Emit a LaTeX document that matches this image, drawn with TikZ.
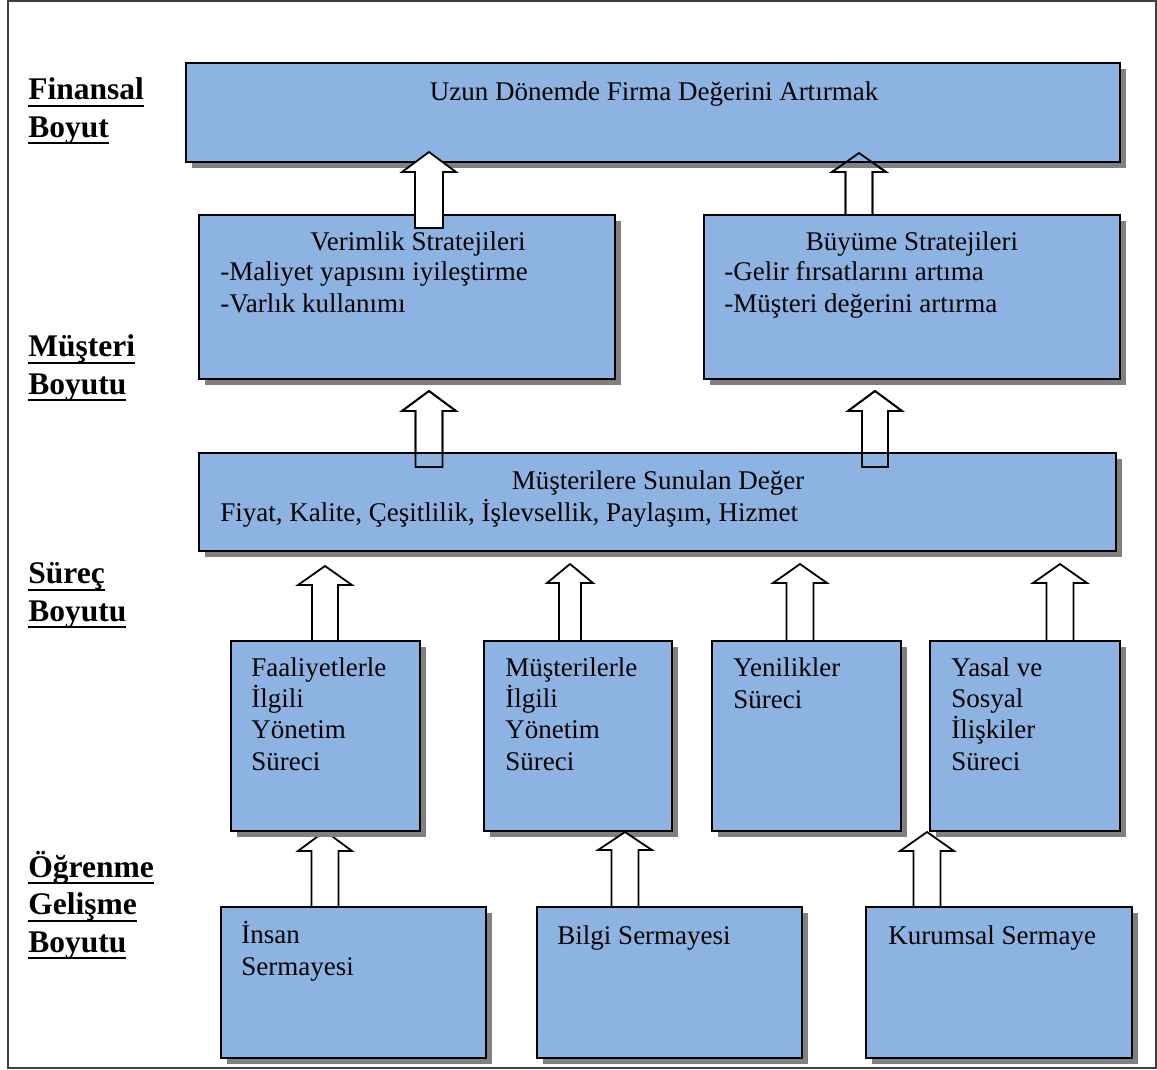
\documentclass[tikz,border=0pt]{standalone}
\usepackage{fontspec}
\setmainfont{Liberation Serif}
\usetikzlibrary{shadows,fit}

\definecolor{boxblue}{HTML}{8DB3E2}
\definecolor{shadowgray}{HTML}{808080}

% underline that runs through descenders, as in the layer headings
\newbox\ulbox
\newcommand{\ulword}[1]{\setbox\ulbox\hbox{#1}\rlap{\rule[-3.1pt]{\wd\ulbox}{0.9pt}}\box\ulbox}

% hollow upward block arrow: [opts]{cx}{tip y}{head base y}{bottom y}{head half}{body half}
\newcommand{\blockup}[7][]{%
  \draw[upblock,#1] ({#2-#7},#5) -- ({#2-#7},#4) -- ({#2-#6},#4) -- (#2,#3)
    -- ({#2+#6},#4) -- ({#2+#7},#4) -- ({#2+#7},#5) -- cycle;}

% multi-line nodes are placed by the baseline of their last line
\tikzset{
  panel/.style={draw=black, line width=0.9pt, fill=boxblue, inner sep=0pt, outer sep=0pt,
    drop shadow={shadow xshift=2.7pt, shadow yshift=-2.5pt, fill=shadowgray, opacity=1, draw=none}},
  boxtext/.style={font=\fontsize{12}{13.8}\selectfont, inner sep=0pt, align=left, anchor=base west},
  boxtitle/.style={font=\fontsize{12}{13.8}\selectfont, inner sep=0pt, anchor=base},
  layerlabel/.style={font=\fontsize{14}{16.6}\selectfont\bfseries, inner sep=0pt, align=left, anchor=base west},
  upblock/.style={draw=black, line width=0.8pt, fill=white, line join=miter},
}

\begin{document}
\begin{tikzpicture}[x=0.4444pt, y=-0.4444pt]
\useasboundingbox (0,0) rectangle (1157,1069);
\fill[white] (0,0) rectangle (1157,1069);

% outer frame
\draw[black!75, line width=0.9pt] (8,1) rectangle (1156,1068);

% arrows lying beneath the panels
\blockup{859}{153}{172}{215}{27}{13.5}
\blockup{429}{391}{411}{467}{27}{13.5}
\blockup{875}{391}{411}{467}{27}{13}
\blockup{325}{566}{585}{641}{27}{13}
\blockup{570}{564}{583}{641}{23}{11}
\blockup{800}{564}{583}{641}{27}{13.5}
\blockup{1060}{564}{583}{641}{27}{13.5}
\blockup{325}{831}{851}{907}{27}{13.5}

% panels
\node[panel, fit={(186,63)(1120,162)}] (fin) {};
\node[panel, fit={(199,215)(615,379)}] (ver) {};
\node[panel, fit={(704,215)(1120,379)}] (buy) {};
\node[panel, fit={(199,453)(1116,551)}] (deger) {};
\node[panel, fit={(231,641)(420,831)}] (faal) {};
\node[panel, fit={(484,641)(672,831)}] (must) {};
\node[panel, fit={(712,641)(901,831)}] (yeni) {};
\node[panel, fit={(930,641)(1120,831)}] (yasal) {};
\node[panel, fit={(221,907)(486,1058)}] (insan) {};
\node[panel, fit={(537,907)(802,1058)}] (bilgi) {};
\node[panel, fit={(866,907)(1132,1058)}] (kurum) {};

% outlines of the arrows that show through the panels
\blockup[fill=none]{859}{153}{172}{215}{27}{13.5}
\blockup[fill=none]{429}{391}{411}{467}{27}{13.5}
\blockup[fill=none]{875}{391}{411}{467}{27}{13}

% arrows lying on top
\blockup{429}{152}{172}{228}{27}{14}
\blockup{625}{832}{850}{907}{27}{13.5}
\blockup{927}{832}{851}{907}{27}{13.5}

% panel texts
\node[boxtitle] (finT) at (654,100) {Uzun Dönemde Firma Değerini Artırmak};
\node[boxtitle] (verT) at (418,250) {Verimlik Stratejileri};
\node[boxtext] (verL) at (220,312) {-Maliyet yapısını iyileştirme\\-Varlık kullanımı};
\node[boxtitle] (buyT) at (912,250) {Büyüme Stratejileri};
\node[boxtext] (buyL) at (724,312) {-Gelir fırsatlarını artıma\\-Müşteri değerini artırma};
\node[boxtitle] (degerT) at (658,489) {Müşterilere Sunulan Değer};
\node[boxtext] (degerL) at (220,521) {Fiyat, Kalite, Çeşitlilik, İşlevsellik, Paylaşım, Hizmet};
\node[boxtext] (faalT) at (251,770) {Faaliyetlerle\\İlgili\\Yönetim\\Süreci};
\node[boxtext] (mustT) at (505,770) {Müşterilerle\\İlgili\\Yönetim\\Süreci};
\node[boxtext] (yeniT) at (733,708) {Yenilikler\\Süreci};
\node[boxtext] (yasalT) at (951,770) {Yasal ve\\Sosyal\\İlişkiler\\Süreci};
\node[boxtext] (insanT) at (241,975) {İnsan\\Sermayesi};
\node[boxtext] (bilgiT) at (557,944) {Bilgi Sermayesi};
\node[boxtext] (kurumT) at (888,944) {Kurumsal Sermaye};

% layer headings
\node[layerlabel] (finL) at (28,137) {\ulword{Finansal}\\\ulword{Boyut}};
\node[layerlabel] (musL) at (28,394) {\ulword{Müşteri}\\\ulword{Boyutu}};
\node[layerlabel] (surL) at (28,621) {\ulword{Süreç}\\\ulword{Boyutu}};
\node[layerlabel] (ogrL) at (28,952) {\ulword{Öğrenme}\\\ulword{Gelişme}\\\ulword{Boyutu}};
\end{tikzpicture}
\end{document}
